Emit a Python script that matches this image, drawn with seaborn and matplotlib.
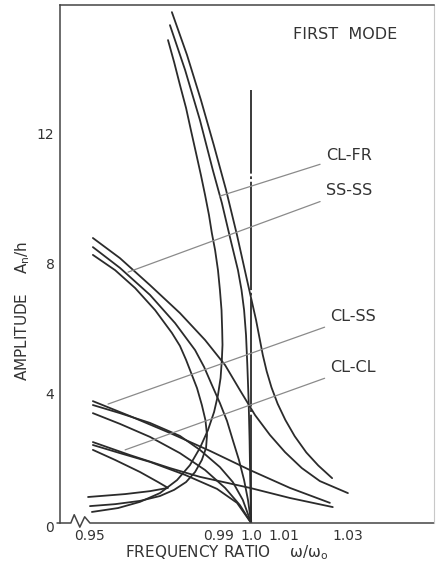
import numpy as np
import pandas as pd
import matplotlib
matplotlib.use("Agg")
import matplotlib.pyplot as plt
import seaborn as sns

# --- curves (frequency ratio, amplitude A_n/h) ---
# CL-FR: the three steep curves coming down from the top
clfr_1_x = [0.9754, 0.9801, 0.9844, 0.9884, 0.9922, 0.9956, 0.9987, 1.0015, 1.0036, 1.0048, 1.0063,
            1.0082, 1.0106, 1.0135, 1.0171, 1.0208, 1.0251]
clfr_1_y = [15.72, 14.40, 13.02, 11.63, 10.25, 8.86, 7.48, 6.25, 5.17, 4.67, 4.17,
            3.67, 3.17, 2.67, 2.17, 1.77, 1.38]
clfr_2_x = [0.9748, 0.9795, 0.9841, 0.9881, 0.9909, 0.9934, 0.9959, 0.9970, 0.9978, 0.9984, 0.9988,
            0.9992, 0.9995, 0.9997, 1.0]
clfr_2_y = [15.32, 13.94, 12.40, 10.86, 9.85, 8.80, 7.78, 7.17, 6.55, 5.78, 4.86,
            3.78, 2.55, 1.32, 0.0]
clfr_3_x = [0.9742, 0.9761, 0.9779, 0.9798, 0.9813, 0.9829, 0.9844, 0.9857, 0.9869, 0.9878, 0.9888,
            0.9897, 0.9903, 0.9908, 0.9910, 0.9911, 0.9909, 0.9905, 0.9897, 0.9885, 0.9866, 0.9841,
            0.9810, 0.9770, 0.9717, 0.9655, 0.9587, 0.9506]
clfr_3_y = [14.86, 14.18, 13.48, 12.77, 12.09, 11.38, 10.71, 10.09, 9.48, 8.92, 8.40,
            7.78, 7.17, 6.55, 5.94, 5.48, 5.02, 4.46, 3.94, 3.42, 2.86, 2.31,
            1.78, 1.32, 0.92, 0.65, 0.46, 0.34]

# SS-SS
ss_1_x = [0.9509, 0.9593, 0.9686, 0.9779, 0.9857, 0.9919, 0.9965, 1.0012, 1.0058, 1.0105, 1.0157, 1.0213, 1.0300]
ss_1_y = [8.77, 8.15, 7.32, 6.46, 5.63, 4.86, 4.09, 3.32, 2.71, 2.18, 1.69, 1.29, 0.92]
ss_2_x = [0.9509, 0.9593, 0.9686, 0.9764, 0.9826, 0.9854, 0.9878, 0.9903, 0.9925, 0.9943, 0.9962,
          0.9978, 0.9990, 1.0]
ss_2_y = [8.49, 7.85, 7.02, 6.15, 5.32, 4.80, 4.25, 3.69, 3.14, 2.55, 1.94,
          1.32, 0.71, 0.0]
ss_3_x = [0.9509, 0.9578, 0.9640, 0.9702, 0.9754, 0.9779, 0.9798, 0.9832, 0.9847, 0.9858, 0.9863,
          0.9860, 0.9847, 0.9826, 0.9798, 0.9761, 0.9717, 0.9655, 0.9578, 0.9500]
ss_3_y = [8.25, 7.78, 7.23, 6.55, 5.85, 5.45, 5.02, 4.15, 3.63, 3.17, 2.71,
          2.31, 1.94, 1.57, 1.26, 1.02, 0.83, 0.68, 0.58, 0.52]

# CL-SS
clss_1_x = [0.9509, 0.9624, 0.9748, 0.9872, 0.9996, 1.0120, 1.0244]
clss_1_y = [3.75, 3.29, 2.77, 2.22, 1.63, 1.08, 0.62]
clss_2_x = [0.9509, 0.9593, 0.9686, 0.9779, 0.9841, 0.9903, 0.9943, 0.9974, 1.0]
clss_2_y = [3.63, 3.38, 3.08, 2.68, 2.25, 1.72, 1.26, 0.71, 0.0]
clss_3_x = [0.9509, 0.9593, 0.9686, 0.9779, 0.9857, 0.9919, 0.9965, 1.0]
clss_3_y = [3.38, 3.05, 2.65, 2.15, 1.63, 1.08, 0.55, 0.0]

# CL-CL
clcl_1_x = [0.9509, 0.9624, 0.9748, 0.9841, 0.9996, 1.0120, 1.0253]
clcl_1_y = [2.49, 2.09, 1.69, 1.42, 1.08, 0.77, 0.49]
clcl_2_x = [0.9509, 0.9593, 0.9686, 0.9795, 0.9894, 0.9956, 1.0]
clcl_2_y = [2.40, 2.15, 1.88, 1.48, 1.05, 0.62, 0.0]
clcl_3_x = [0.9509, 0.9578, 0.9655, 0.9711, 0.9742, 0.9686, 0.9609, 0.9494]
clcl_3_y = [2.25, 1.94, 1.57, 1.26, 1.08, 0.98, 0.89, 0.80]

# linear reference line at omega/omega0 = 1
vline_x = [1.0, 1.0]
vline_y = [0.0, 13.32]

x_ticks = [0.95, 0.97, 0.99, 1.0, 1.01, 1.03]
x_ticklabels = ["0.95", "", "0.99", "1.0", "1.01", "1.03"]
y_ticks = [2, 4, 6, 8, 10, 12]
y_ticklabels = ["", "4", "", "8", "", "12"]

# label text, label anchor (x, y), point the leader line goes to
labels = ["CL-FR", "SS-SS", "CL-SS", "CL-CL"]
label_pos = [(1.0232, 11.32), (1.0232, 10.22), (1.0246, 6.34), (1.0246, 4.77)]
label_target = [(0.9903, 10.06), (0.9618, 7.72), (0.9556, 3.66), (0.9609, 2.25)]

curves = {
    "clfr_1": (clfr_1_x, clfr_1_y), "clfr_2": (clfr_2_x, clfr_2_y), "clfr_3": (clfr_3_x, clfr_3_y),
    "ss_1": (ss_1_x, ss_1_y), "ss_2": (ss_2_x, ss_2_y), "ss_3": (ss_3_x, ss_3_y),
    "clss_1": (clss_1_x, clss_1_y), "clss_2": (clss_2_x, clss_2_y), "clss_3": (clss_3_x, clss_3_y),
    "clcl_1": (clcl_1_x, clcl_1_y), "clcl_2": (clcl_2_x, clcl_2_y), "clcl_3": (clcl_3_x, clcl_3_y),
}
rows = []
for name, (xs, ys) in curves.items():
    for i, (xv, yv) in enumerate(zip(xs, ys)):
        rows.append({"curve": name, "order": i, "x": xv, "y": yv})
df = pd.DataFrame(rows)

INK = "#2b2b2b"

sns.set_theme(style="white")
plt.rcParams["font.family"] = ["DejaVu Sans"]
plt.rcParams["mathtext.default"] = "regular"

fig = plt.figure(figsize=(4.36, 5.72), dpi=100)
ax = fig.add_axes([60 / 436, 49 / 572, 374 / 436, 518 / 572])

sns.lineplot(data=df, x="x", y="y", units="curve", estimator=None, sort=False,
             color=INK, linewidth=1.3, ax=ax, legend=False)
for line in ax.lines:
    line.set_solid_joinstyle("round")
ax.plot(vline_x, vline_y, color=INK, linewidth=1.3, linestyle=(0, (60, 1.5, 1.5, 1.5)))

ax.set_xlim(0.9407, 1.0567)
ax.set_ylim(0, 15.94)

ax.set_xticks(x_ticks)
ax.set_xticklabels(x_ticklabels)
ax.set_yticks(y_ticks)
ax.set_yticklabels(y_ticklabels)
ax.tick_params(axis="x", direction="in", length=10, width=1.0, color="#444", labelsize=10, pad=4,
               labelcolor="#333")
ax.tick_params(axis="y", direction="in", length=11, width=1.0, color="#444", labelsize=10, pad=4,
               labelcolor="#333")

for side in ["left", "top"]:
    ax.spines[side].set_color("#444")
    ax.spines[side].set_linewidth(1.1)
ax.spines["right"].set_color("#c8c8c8")
ax.spines["right"].set_linewidth(0.8)
ax.spines["bottom"].set_visible(False)

# bottom axis with the break between 0 and 0.95
bx = [-0.008, 0.029, 0.038, 0.053, 0.066, 0.080, 1.0]
by = [0.0, 0.0, 0.016, -0.008, 0.012, 0.0, 0.0]
ax.plot(bx, by, transform=ax.transAxes, color="#444", linewidth=1.1, clip_on=False)
ax.text(-0.027, -0.010, "0", transform=ax.transAxes, ha="center", va="center",
        fontsize=10, color="#333")

ax.set_xlabel("FREQUENCY RATIO    \u03c9/\u03c9$_o$", fontsize=11, color="#333")
ax.xaxis.set_label_coords(0.444, -0.040)
ax.set_ylabel("AMPLITUDE    A$_n$/h", fontsize=11, color="#333")
ax.yaxis.set_label_coords(-0.075, 0.409)

for text, pos, tgt in zip(labels, label_pos, label_target):
    ax.annotate(text, xy=tgt, xytext=pos, ha="left", va="center", fontsize=11.5, color="#333",
                arrowprops=dict(arrowstyle="-", color="#8a8a8a", linewidth=0.9,
                                shrinkA=2, shrinkB=0))

ax.text(1.0129, 15.02, "FIRST  MODE", ha="left", va="center", fontsize=11.5, color="#333")

fig.savefig("out.png", dpi=100)
